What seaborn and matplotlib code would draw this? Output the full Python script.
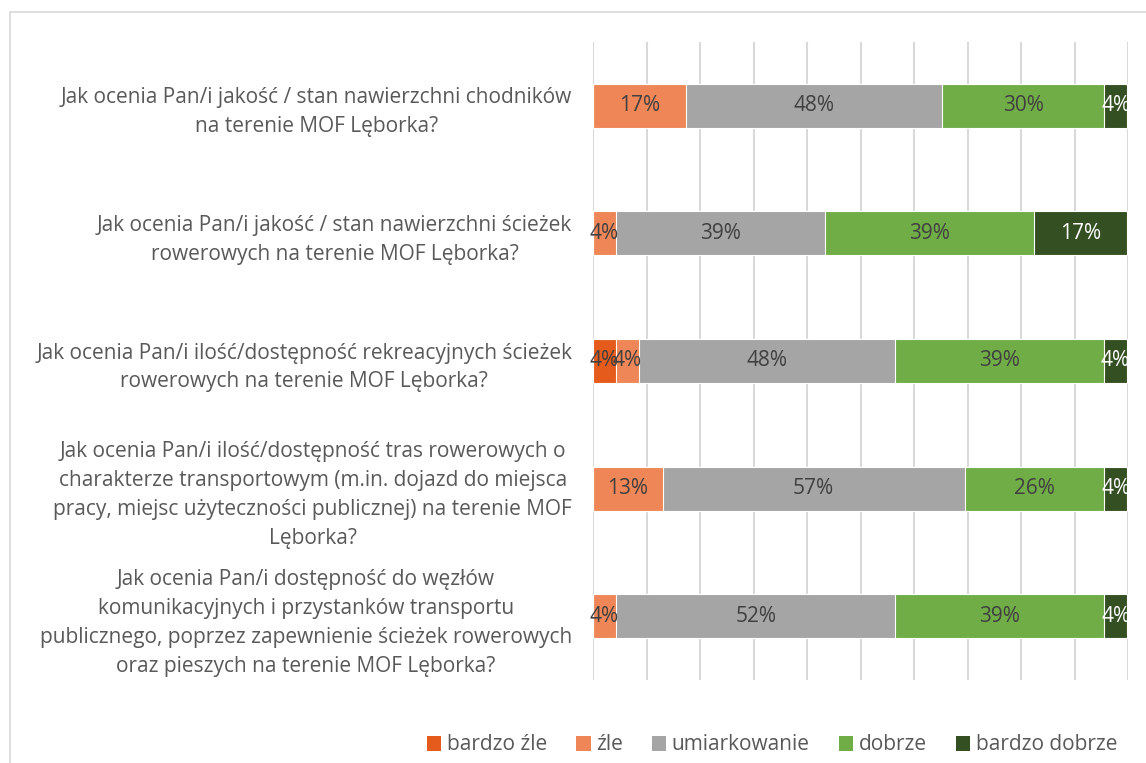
import matplotlib
matplotlib.use("Agg")
import matplotlib.pyplot as plt
import seaborn as sns
import pandas as pd
import numpy as np
from matplotlib.patches import Rectangle, Patch

questions = [
    "Jak ocenia Pan/i jakość / stan nawierzchni chodników\nna terenie MOF Lęborka?",
    "Jak ocenia Pan/i jakość / stan nawierzchni ścieżek\nrowerowych na terenie MOF Lęborka?",
    "Jak ocenia Pan/i ilość/dostępność rekreacyjnych ścieżek\nrowerowych na terenie MOF Lęborka?",
    "Jak ocenia Pan/i ilość/dostępność tras rowerowych o\ncharakterze transportowym (m.in. dojazd do miejsca\npracy, miejsc użyteczności publicznej) na terenie MOF\nLęborka?",
    "Jak ocenia Pan/i dostępność do węzłów\nkomunikacyjnych i przystanków transportu\npublicznego, poprzez zapewnienie ścieżek rowerowych\noraz pieszych na terenie MOF Lęborka?",
]
series = ["bardzo źle", "źle", "umiarkowanie", "dobrze", "bardzo dobrze"]
bardzo_zle = [0.0, 0.0, 4.3, 0.0, 0.0]
zle = [17.4, 4.3, 4.3, 13.0, 4.3]
umiarkowanie = [47.8, 39.1, 47.8, 56.5, 52.2]
dobrze = [30.4, 39.1, 39.1, 26.1, 39.1]
bardzo_dobrze = [4.3, 17.4, 4.3, 4.3, 4.3]
colors = ["#E55B1B", "#EF8657", "#A5A5A5", "#70AD47", "#345023"]
label_colors = ["#404040", "#404040", "#404040", "#404040", "#FFFFFF"]

values = [bardzo_zle, zle, umiarkowanie, dobrze, bardzo_dobrze]
df = pd.DataFrame({s: v for s, v in zip(series, values)}, index=questions)
cum = df.cumsum(axis=1)

sns.set_theme(style="white")
FONT = ["Open Sans", "DejaVu Sans"]
plt.rcParams["font.family"] = FONT
TXT = "#595959"
FS = 15

fig = plt.figure(figsize=(11.46, 7.63), dpi=100)
ax = fig.add_axes([593/1146, 1-680/763, (1128-593)/1146, (680-42)/763])

for i in range(len(series) - 1, -1, -1):
    d = pd.DataFrame({"q": questions, "v": cum[series[i]].values})
    sns.barplot(data=d, y="q", x="v", orient="h", color=colors[i], width=0.345,
                edgecolor="white", linewidth=0.8, ax=ax, saturation=1, zorder=3)

ax.set_xlim(0, 100)
ax.set_ylim(4.5, -0.5)
ax.set_xticks(np.arange(0, 101, 10))
ax.set_xticklabels([])
ax.xaxis.grid(True, color="#D9D9D9", linewidth=1.5)
ax.set_axisbelow(True)
for sp in ax.spines.values():
    sp.set_visible(False)
ax.set_xlabel("")
ax.set_ylabel("")
ax.tick_params(axis="both", length=0)
ax.set_yticks(range(len(questions)))
ax.set_yticklabels(questions, fontsize=FS, color=TXT, multialignment="center",
                   linespacing=1.5)
ax.tick_params(axis="y", pad=15)

for j, q in enumerate(questions):
    left = 0.0
    for i, s in enumerate(series):
        v = df.loc[q, s]
        if v > 0:
            ax.text(left + v / 2, j, f"{int(v + 0.5)}%", ha="center", va="center",
                    fontsize=FS, color=label_colors[i], zorder=5)
        left += v

handles = [Patch(facecolor=c, edgecolor="none") for c in colors]
fig.legend(handles, series, loc="center", bbox_to_anchor=(772/1146, 1-745/763),
           ncol=5, frameon=False, fontsize=FS, handlelength=0.7, handleheight=0.7,
           handletextpad=0.25, columnspacing=1.4, labelcolor=TXT)

fig.patches.append(Rectangle((10/1146, -0.1), 1.2, 1-12/763+0.1, transform=fig.transFigure,
                             fill=False, edgecolor="#D9D9D9", linewidth=1.2))

fig.savefig("out.png", dpi=100, facecolor="white")
